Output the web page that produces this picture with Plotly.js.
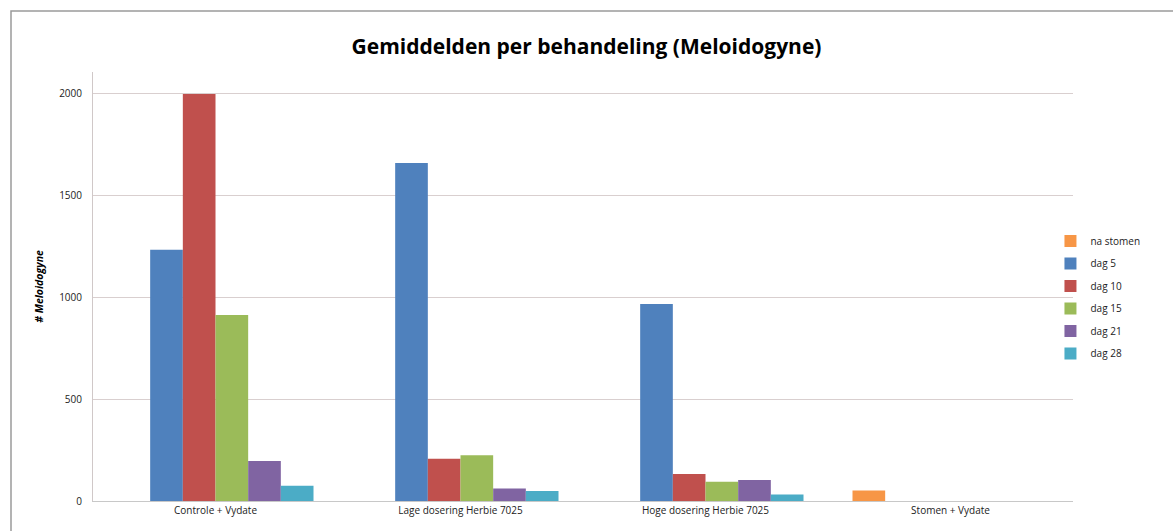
<!DOCTYPE html>
<html><head><meta charset="utf-8">
<script src="https://cdn.plot.ly/plotly-3.0.1.min.js"></script>
<style>html,body{margin:0;padding:0;background:#fff;overflow:hidden}</style>
</head><body>
<div id="chart" style="width:1173px;height:531px"></div>
<script>
var categories = ["Controle + Vydate", "Lage dosering Herbie 7025", "Hoge dosering Herbie 7025", "Stomen + Vydate"];
var seriesNames = ["na stomen", "dag 5", "dag 10", "dag 15", "dag 21", "dag 28"];
var naStomen = [null, null, null, 51];
var dag5 = [1235, 1661, 968, null];
var dag10 = [2000, 208, 133, null];
var dag15 = [914, 225, 95, null];
var dag21 = [197, 62, 103, null];
var dag28 = [75, 49, 32, null];
var colors = ["#F79646", "#4F81BD", "#C0504D", "#9BBB59", "#8064A2", "#4BACC6"];
var yTicks = [0, 500, 1000, 1500, 2000];

var allSeries = [naStomen, dag5, dag10, dag15, dag21, dag28];
var traces = allSeries.map(function(vals, i){
  return {type:"bar", name:seriesNames[i], x:categories, y:vals, legendgroup:"g"+i,
    marker:{color:colors[i], line:{width:0}}, hoverinfo:"y"};
});

var font = "Open Sans, DejaVu Sans, sans-serif";
var layout = {
  width:1173, height:531,
  margin:{l:93, r:100, t:72, b:30, autoexpand:false},
  paper_bgcolor:"#fff", plot_bgcolor:"#fff",
  barmode:"group", bargap:0.2, bargroupgap:0,
  title:{text:"<b>Gemiddelden per behandeling (Meloidogyne)</b>", font:{family:font, size:21, color:"#000"}, x:0.5, xanchor:"center", y:0.912, yanchor:"middle"},
  font:{family:font, size:10, color:"#222"},
  xaxis:{type:"category", showgrid:false, showline:true, linecolor:"#c8c8c8", linewidth:1,
    ticks:"", tickfont:{size:10, color:"#222"}, fixedrange:true},
  yaxis:{range:[0,2108], tickvals:yTicks, ticktext:yTicks.map(String), showgrid:true, gridcolor:"#d9cfcf",
    showline:true, linecolor:"#d0c8c8", zeroline:false, ticks:"", ticklen:0, ticklabelstandoff:8, tickfont:{size:10, color:"#222"},
    title:{text:"<b><i># Meloidogyne</i></b>", font:{size:10.5, color:"#000"}, standoff:13}, fixedrange:true},
  legend:{x:0.977, y:0.64, xanchor:"left", yanchor:"top", font:{size:10, color:"#222"},
    tracegroupgap:3.5, itemwidth:30, bgcolor:"rgba(0,0,0,0)"},
  shapes:[{type:"rect", xref:"paper", yref:"paper", x0:(11-93)/980, x1:(1190-93)/980, y0:(501-540)/429, y1:(501-11)/429,
    line:{color:"#9a9a9a", width:1.5}, fillcolor:"rgba(0,0,0,0)", layer:"below"}],
  showlegend:true
};
Plotly.newPlot("chart", traces, layout, {displayModeBar:false, staticPlot:true});
</script>
</body></html>
